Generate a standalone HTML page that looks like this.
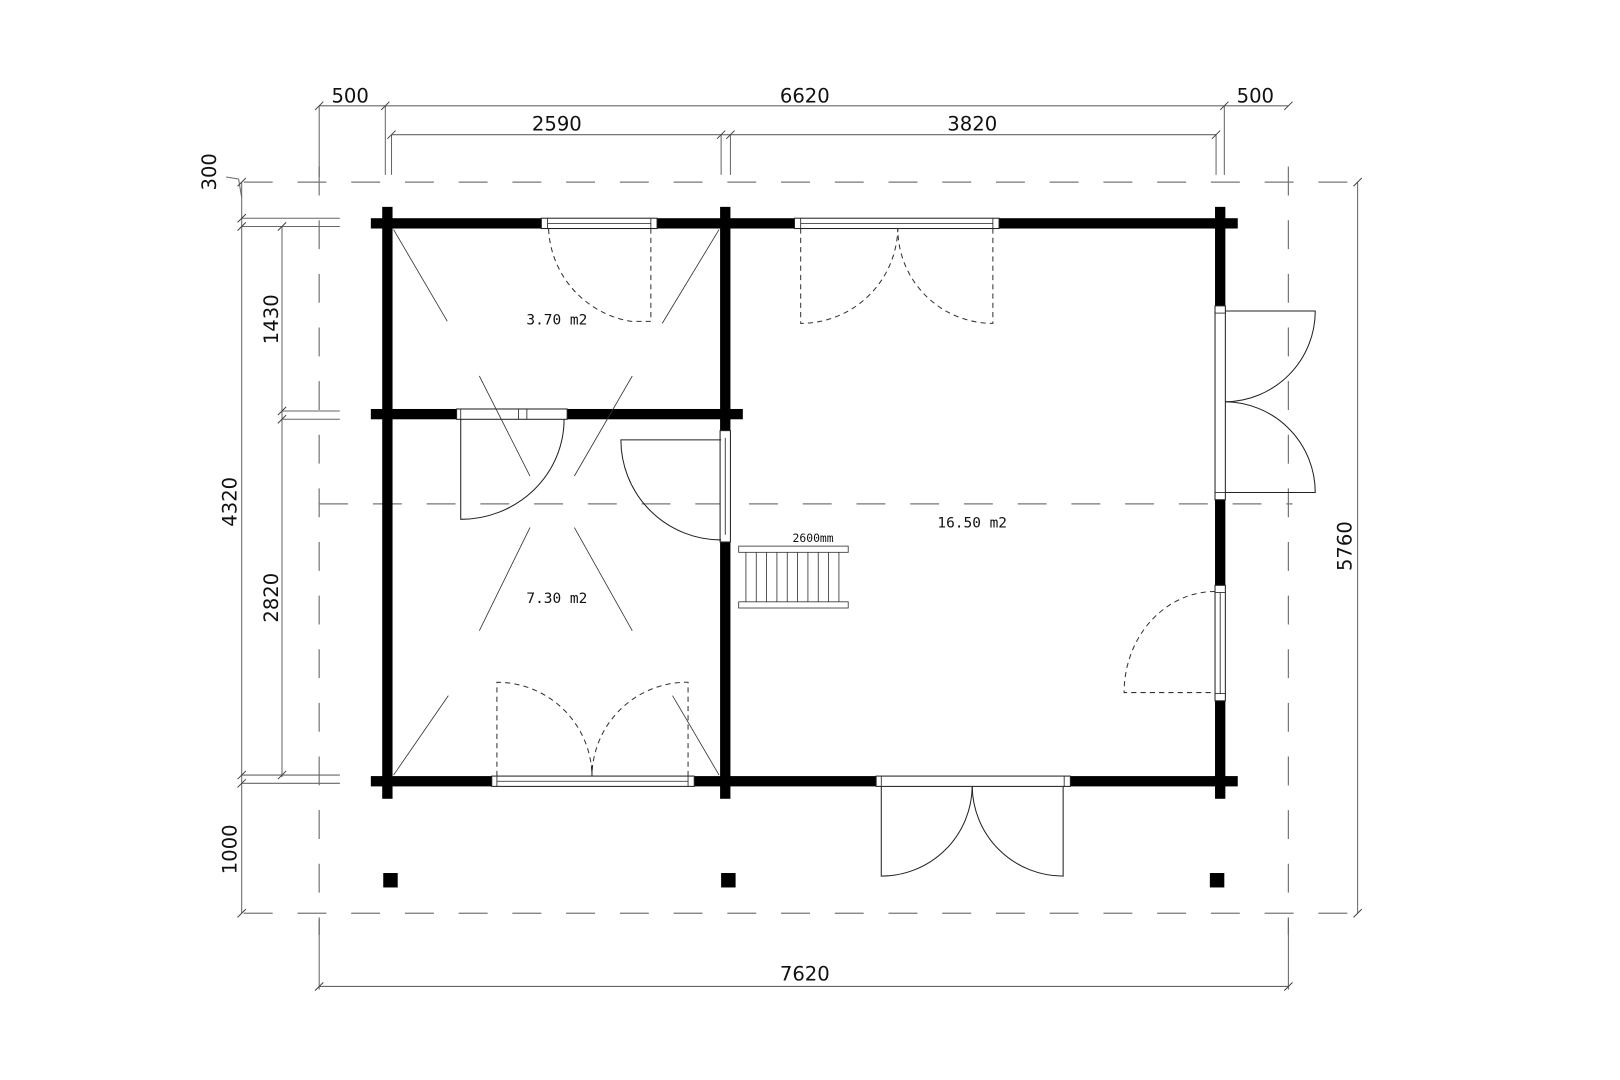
<!DOCTYPE html>
<html><head><meta charset="utf-8"><style>
html,body{margin:0;padding:0;background:#fff;}
svg{display:block}
.d{font-family:"DejaVu Sans","Liberation Sans",sans-serif;font-size:19px;fill:#111}
.m{font-family:"DejaVu Sans Mono","Liberation Mono",monospace;font-size:14px;fill:#111}
</style></head><body>
<svg width="1620" height="1080" viewBox="0 0 1560 1040" xmlns="http://www.w3.org/2000/svg">
<rect width="1560" height="1040" fill="#fff"/>
<g transform="translate(0.9,1.6) scale(0.995,0.993)">
<!-- dashed overhang -->
<g stroke="#777" stroke-width="1.2" fill="none" stroke-dasharray="28,24">
<line x1="235" y1="175" x2="1316" y2="175"/>
<line x1="235" y1="884" x2="1316" y2="884"/>
<line x1="308" y1="487" x2="1250" y2="487"/>
<line x1="308" y1="160" x2="308" y2="905"/>
<line x1="1246" y1="160" x2="1246" y2="905"/>
</g>
<!-- dimension lines -->
<g stroke="#666" stroke-width="1" fill="none">
<line x1="308" y1="101" x2="1246" y2="101"/>
<line x1="308" y1="101" x2="308" y2="170"/>
<line x1="372" y1="101" x2="372" y2="168"/>
<line x1="1184" y1="101" x2="1184" y2="168"/>
<line x1="378" y1="129" x2="1176" y2="129"/>
<line x1="378" y1="129" x2="378" y2="168"/>
<line x1="697" y1="129" x2="697" y2="168"/>
<line x1="706" y1="129" x2="706" y2="168"/>
<line x1="1176" y1="129" x2="1176" y2="168"/>
<line x1="233" y1="175" x2="233" y2="884"/>
<line x1="272" y1="218" x2="272" y2="752"/>
<line x1="1313" y1="175" x2="1313" y2="884"/>
<line x1="308" y1="955" x2="1246" y2="955"/>
<line x1="308" y1="890" x2="308" y2="958"/>
<line x1="1246" y1="890" x2="1246" y2="958"/>
<line x1="233" y1="210" x2="328" y2="210"/>
<line x1="233" y1="218" x2="328" y2="218"/>
<line x1="272" y1="397" x2="328" y2="397"/>
<line x1="272" y1="405" x2="328" y2="405"/>
<line x1="233" y1="750" x2="328" y2="750"/>
<line x1="233" y1="758" x2="328" y2="758"/>
<line x1="218" y1="170" x2="230" y2="172"/>
<line x1="230" y1="172" x2="233" y2="190"/>
</g>
<g stroke="#444" stroke-width="1">
<path d="M304 105l8-8M368 105l8-8M1180 105l8-8M1242 105l8-8M374 133l8-8M693 133l8-8M702 133l8-8M1172 133l8-8M229 179l8-8M229 214l8-8M229 222l8-8M229 754l8-8M229 762l8-8M229 888l8-8M268 222l8-8M268 401l8-8M268 409l8-8M268 754l8-8M1309 179l8-8M1309 888l8-8M304 959l8-8M1242 959l8-8"/>
</g>
<text class="d" x="338" y="98" text-anchor="middle">500</text>
<text class="d" x="778" y="98" text-anchor="middle">6620</text>
<text class="d" x="1214" y="98" text-anchor="middle">500</text>
<text class="d" x="538" y="125" text-anchor="middle">2590</text>
<text class="d" x="940" y="125" text-anchor="middle">3820</text>
<text class="d" x="778" y="949" text-anchor="middle">7620</text>
<text class="d" transform="translate(208,165) rotate(-90)" text-anchor="middle">300</text>
<text class="d" transform="translate(228,485) rotate(-90)" text-anchor="middle">4320</text>
<text class="d" transform="translate(228,822) rotate(-90)" text-anchor="middle">1000</text>
<text class="d" transform="translate(268,308) rotate(-90)" text-anchor="middle">1430</text>
<text class="d" transform="translate(268,578) rotate(-90)" text-anchor="middle">2820</text>
<text class="d" transform="translate(1307,528) rotate(-90)" text-anchor="middle">5760</text>
<!-- walls -->
<g fill="#000">
<rect x="358" y="210" width="839" height="10"/>
<rect x="358" y="751" width="839" height="10"/>
<rect x="358" y="395" width="360" height="10"/>
<rect x="369" y="199" width="10" height="574"/>
<rect x="1175" y="199" width="10" height="574"/>
<rect x="696" y="199" width="10" height="574"/>
</g>
<!-- openings -->
<g fill="#fff" stroke="#222" stroke-width="1">
<rect x="523" y="210" width="112" height="10"/>
<rect x="768" y="210" width="198" height="10"/>
<rect x="441" y="395" width="107" height="10"/>
<rect x="475" y="751" width="196" height="10"/>
<rect x="847" y="751" width="188" height="10"/>
<rect x="1175" y="295" width="10" height="188"/>
<rect x="1175" y="566" width="10" height="112"/>
<rect x="696" y="416" width="10" height="108"/>
</g>
<g stroke="#222" stroke-width="0.8" fill="none">
<line x1="529" y1="215" x2="629" y2="215"/><line x1="529" y1="210" x2="529" y2="220"/><line x1="629" y1="210" x2="629" y2="220"/>
<line x1="774" y1="215" x2="960" y2="215"/><line x1="774" y1="210" x2="774" y2="220"/><line x1="960" y1="210" x2="960" y2="220"/>
<line x1="445" y1="395" x2="445" y2="405"/><line x1="501" y1="395" x2="501" y2="405"/><line x1="509" y1="395" x2="509" y2="405"/>
<line x1="480" y1="756" x2="665" y2="756"/><line x1="480" y1="751" x2="480" y2="761"/><line x1="665" y1="751" x2="665" y2="761"/>
<line x1="852" y1="751" x2="852" y2="761"/><line x1="1029" y1="751" x2="1029" y2="761"/>
<line x1="1175" y1="302" x2="1185" y2="302"/><line x1="1175" y1="476" x2="1185" y2="476"/>
<line x1="1180" y1="573" x2="1180" y2="671"/><line x1="1175" y1="573" x2="1185" y2="573"/><line x1="1175" y1="671" x2="1185" y2="671"/>
<line x1="701" y1="423" x2="701" y2="517"/>
</g>
<!-- dashed swings -->
<g stroke="#333" stroke-width="1" fill="none" stroke-dasharray="5,4">
<path d="M629 220V310H610A95 95 0 0 1 530 220"/>
<path d="M774 220V312A94 94 0 0 0 868 220"/>
<path d="M960 220V312A92 92 0 0 1 868 220"/>
<path d="M1175 572A88 98 0 0 0 1087 670H1175"/>
<path d="M480 751V660A92 92 0 0 1 572 750"/>
<path d="M665 751V660A92 92 0 0 0 572 750"/>
</g>
<!-- solid swings -->
<g stroke="#222" stroke-width="1" fill="none">
<path d="M852 761V848A88 88 0 0 0 940 761"/>
<path d="M1028 761V848A88 88 0 0 1 940 761"/>
<path d="M1185 300H1272A88 88 0 0 1 1185 388"/>
<path d="M1185 476H1272A88 88 0 0 0 1185 388"/>
<path d="M445 405V502A100 97 0 0 0 545 405"/>
<path d="M697 425H600A97 97 0 0 0 697 522"/>
<line x1="572" y1="740" x2="572" y2="751"/>
</g>
<!-- diagonals -->
<g stroke="#333" stroke-width="0.8">
<line x1="380" y1="221" x2="432" y2="310"/>
<line x1="695" y1="221" x2="640" y2="312"/>
<line x1="463" y1="363" x2="512" y2="460"/>
<line x1="611" y1="363" x2="555" y2="460"/>
<line x1="512" y1="510" x2="463" y2="610"/>
<line x1="555" y1="510" x2="611" y2="610"/>
<line x1="380" y1="750" x2="433" y2="673"/>
<line x1="695" y1="750" x2="650" y2="673"/>
</g>
<!-- stairs -->
<g stroke="#333" stroke-width="0.8" fill="#fff">
<rect x="714" y="528" width="106" height="6"/>
<rect x="714" y="582" width="106" height="6"/>
<path d="M721 534V582M731 534V582M741 534V582M751 534V582M761 534V582M771 534V582M781 534V582M791 534V582M801 534V582M811 534V582" fill="none"/>
</g>
<text class="m" x="786" y="524" text-anchor="middle" style="font-size:11px">2600mm</text>
<text class="m" x="538" y="313" text-anchor="middle">3.70 m2</text>
<text class="m" x="538" y="583" text-anchor="middle">7.30 m2</text>
<text class="m" x="940" y="510" text-anchor="middle">16.50 m2</text>
<!-- posts -->
<g fill="#000">
<rect x="370" y="845" width="14" height="14"/>
<rect x="697" y="845" width="14" height="14"/>
<rect x="1170" y="845" width="14" height="14"/>
</g>
</g>
</svg>
</body></html>
